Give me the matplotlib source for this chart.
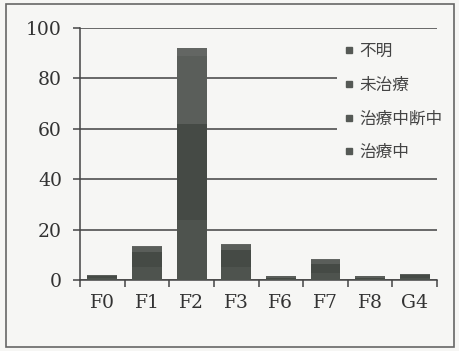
import numpy as np
import matplotlib.pyplot as plt
from matplotlib.lines import Line2D
from matplotlib.patches import Rectangle

plt.rcParams['font.family'] = ['DejaVu Serif']

categories = ['F0', 'F1', 'F2', 'F3', 'F6', 'F7', 'F8', 'G4']
# 下から順に積み上げ
chiryochu = [1.0, 5.0, 24.0, 5.0, 0.5, 3.0, 0.5, 1.0]
chudan = [0.5, 6.0, 38.0, 7.0, 0.5, 3.5, 0.5, 1.0]
michiryo = [0.5, 2.0, 27.0, 2.0, 0.5, 1.5, 0.5, 0.5]
fumei = [0.0, 0.5, 3.0, 0.5, 0.0, 0.5, 0.0, 0.0]

series = [('治療中', chiryochu, '#4e534e'),
          ('治療中断中', chudan, '#454a45'),
          ('未治療', michiryo, '#5a5e5a'),
          ('不明', fumei, '#636663')]

fig = plt.figure(figsize=(4.6, 3.51), dpi=100, facecolor='#f6f6f4')
ax = fig.add_axes([0.174, 0.202, 0.776, 0.718])
ax.set_facecolor('#f6f6f4')

x = np.arange(len(categories))
bottom = np.zeros(len(categories))
for name, vals, col in series:
    ax.bar(x, vals, width=0.67, bottom=bottom, color=col, zorder=3)
    bottom += np.array(vals)

ax.set_ylim(0, 100)
ax.set_xlim(-0.5, len(categories) - 0.5)
ax.set_yticks(range(0, 101, 20))
ax.yaxis.grid(True, color='#505050', lw=1.2, zorder=0)
ax.set_xticks(x)
ax.set_xticklabels(categories)
ax.set_xticks(np.arange(-0.5, len(categories)), minor=True)
ax.tick_params(axis='x', which='major', length=0, pad=10, labelsize=13.5, colors='#333333')
ax.tick_params(axis='x', which='minor', length=5, width=1.1, color='#444444')
ax.tick_params(axis='y', length=5, width=1.1, color='#444444', labelsize=13.5,
               labelcolor='#333333', pad=8)
for s in ['top', 'right']:
    ax.spines[s].set_visible(False)
for s in ['left', 'bottom']:
    ax.spines[s].set_color('#444444')
    ax.spines[s].set_linewidth(1.1)

handles = [Line2D([], [], marker='s', ls='', markersize=5, color='#555955')
           for _ in series]
labels = [name for name, _, _ in series[::-1]]
leg = fig.legend(handles, labels, loc='upper left', bbox_to_anchor=(0.715, 0.92),
                 frameon=True, facecolor='#f6f6f4', edgecolor='none', framealpha=1,
                 labelspacing=1.0, handlelength=0.6, handletextpad=0.35,
                 borderpad=0.4, prop={'family': ['Noto Sans CJK JP'], 'size': 12})
for t in leg.get_texts():
    t.set_color('#444444')

fig.patches.append(Rectangle((0.012, 0.012), 0.976, 0.976, transform=fig.transFigure,
                             fill=False, ec='#666666', lw=1.2))

fig.savefig('out.png', dpi=100, facecolor=fig.get_facecolor())
